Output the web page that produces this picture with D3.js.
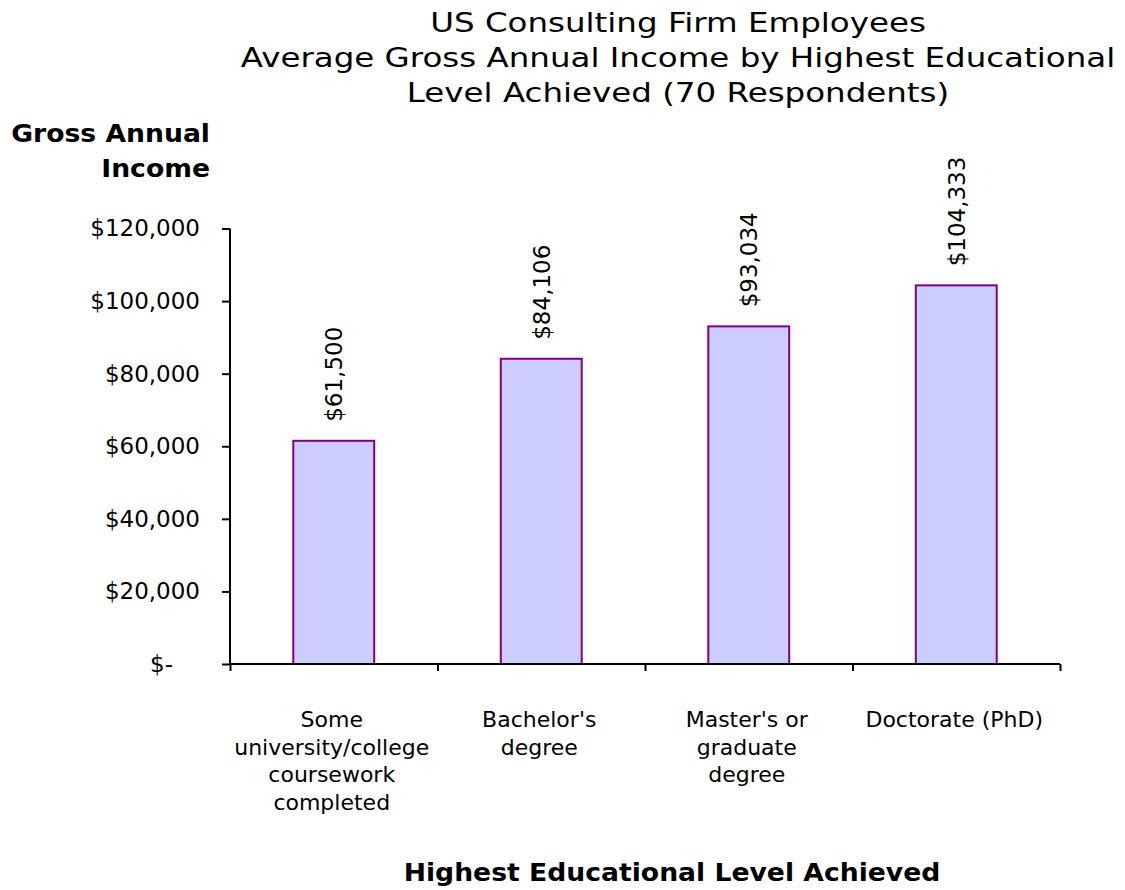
<!DOCTYPE html>
<html>
<head>
<meta charset="utf-8">
<script src="https://cdn.jsdelivr.net/npm/d3@7"></script>
<style>
  html, body { margin: 0; padding: 0; background: #fff; }
  svg text { font-family: "DejaVu Sans", Verdana, sans-serif; fill: #000; }
</style>
</head>
<body>
<svg id="chart" width="1125" height="890"></svg>
<script>
// Education levels (multi-line category labels)
const categories = [
  "Some university/college coursework completed",
  "Bachelor's degree",
  "Master's or graduate degree",
  "Doctorate (PhD)"
];
const categoryLines = [
  ["Some", "university/college", "coursework", "completed"],
  ["Bachelor's", "degree"],
  ["Master's or", "graduate", "degree"],
  ["Doctorate (PhD)"]
];
// Average gross annual income per level
const incomes = [61500, 84106, 93034, 104333];
// Y axis tick values
const yTicks = [0, 20000, 40000, 60000, 80000, 100000, 120000];

const titleLines = [
  "US Consulting Firm Employees",
  "Average Gross Annual Income by Highest Educational",
  "Level Achieved (70 Respondents)"
];
const yTitleLines = ["Gross Annual", "Income"];
const xTitle = "Highest Educational Level Achieved";

const svg = d3.select("#chart");
const plot = { left: 230, right: 1060, top: 228.5, bottom: 664 };

const x = d3.scaleBand()
  .domain(categories)
  .range([plot.left, plot.right])
  .paddingInner(0.61)
  .paddingOuter(0.305);

const y = d3.scaleLinear()
  .domain([0, 120000])
  .range([plot.bottom, plot.top]);

const money = d3.format("$,");

// Title (wide face: stretched horizontally)
svg.append("g")
  .selectAll("text")
  .data(titleLines)
  .join("text")
  .attr("transform", (d, i) => `translate(678,${32 + i * 35}) scale(1.25,1)`)
  .attr("text-anchor", "middle")
  .style("font-size", "26px")
  .text(d => d);

// Y axis title
svg.append("g")
  .selectAll("text")
  .data(yTitleLines)
  .join("text")
  .attr("transform", (d, i) => `translate(210,${142 + i * 35}) scale(1.11,1)`)
  .attr("text-anchor", "end")
  .style("font-size", "24px")
  .style("font-weight", "bold")
  .text(d => d);

// Bars
svg.append("g")
  .selectAll("rect")
  .data(incomes)
  .join("rect")
  .attr("x", (d, i) => x(categories[i]))
  .attr("y", d => y(d))
  .attr("width", x.bandwidth())
  .attr("height", d => y(0) - y(d))
  .attr("fill", "#ccccff")
  .attr("stroke", "#800080")
  .attr("stroke-width", 2);

// Value labels, rotated above each bar
svg.append("g")
  .selectAll("text")
  .data(incomes)
  .join("text")
  .attr("transform", (d, i) =>
    `translate(${x(categories[i]) + x.bandwidth() / 2},${y(d) - 19}) rotate(-90)`)
  .attr("dy", "0.36em")
  .attr("text-anchor", "start")
  .style("font-size", "23px")
  .text(d => money(d));

// Y axis
const yAxis = svg.append("g")
  .attr("transform", `translate(${plot.left},0)`)
  .call(d3.axisLeft(y)
    .tickValues(yTicks)
    .tickSize(8)
    .tickPadding(22)
    .tickFormat(d => d === 0 ? "$-" : money(d)));
yAxis.select(".domain").attr("stroke", "#000").attr("stroke-width", 2)
  .attr("d", `M0,${plot.top}V${plot.bottom}`);
yAxis.selectAll(".tick line").attr("stroke", "#000").attr("stroke-width", 2);
yAxis.selectAll(".tick text")
  .style("font-size", "23px")
  .style("font-family", "'DejaVu Sans', Verdana, sans-serif")
  .attr("dx", d => d === 0 ? -27 : 0);

// X axis: line with ticks at the category boundaries
const boundaries = d3.range(categories.length + 1);
const xb = d3.scaleLinear().domain([0, categories.length]).range([plot.left, plot.right]);
const xAxis = svg.append("g")
  .attr("transform", `translate(0,${plot.bottom})`)
  .call(d3.axisBottom(xb).tickValues(boundaries).tickSize(7).tickFormat(""));
xAxis.select(".domain").attr("stroke", "#000").attr("stroke-width", 2)
  .attr("d", `M${plot.left},0H${plot.right}`);
xAxis.selectAll(".tick line").attr("stroke", "#000").attr("stroke-width", 2);

// Category labels
const catG = svg.append("g");
categories.forEach((c, i) => {
  catG.append("text")
    .attr("text-anchor", "middle")
    .style("font-size", "22px")
    .selectAll("tspan")
    .data(categoryLines[i])
    .join("tspan")
    .attr("x", x(c) + x.bandwidth() / 2 - 2)
    .attr("y", (d, j) => 727 + j * 27.5)
    .text(d => d);
});

// X axis title
svg.append("text")
  .attr("transform", "translate(672,881) scale(1.11,1)")
  .attr("text-anchor", "middle")
  .style("font-size", "24px")
  .style("font-weight", "bold")
  .text(xTitle);
</script>
</body>
</html>
